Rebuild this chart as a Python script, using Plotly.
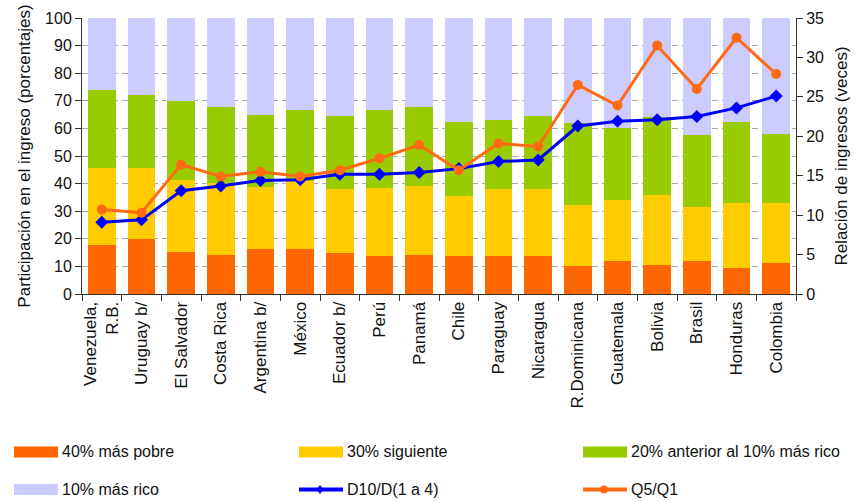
import plotly.graph_objects as go

# Income distribution by country (percent of total income) and income ratios
countries = ["Venezuela,<br>R.B.", "Uruguay b/", "El Salvador", "Costa Rica", "Argentina b/",
             "México", "Ecuador b/", "Perú", "Panamá", "Chile", "Paraguay", "Nicaragua",
             "R.Dominicana", "Guatemala", "Bolivia", "Brasil", "Honduras", "Colombia"]

poorest_40 = [17.8, 20.1, 15.3, 14.3, 16.3, 16.3, 14.9, 13.9, 14.3, 13.9, 13.9, 13.9,
              10.0, 11.9, 10.5, 11.9, 9.5, 11.4]
next_30 = [27.7, 25.4, 26.0, 25.9, 22.6, 24.5, 23.0, 24.5, 25.0, 21.6, 24.0, 24.0,
           22.1, 22.1, 25.5, 19.7, 23.6, 21.7]
prev_20 = [28.5, 26.5, 28.7, 27.5, 26.0, 26.0, 26.5, 28.4, 28.4, 26.9, 25.0, 26.5,
           29.8, 26.0, 28.2, 26.0, 29.3, 25.0]
richest_10 = [26.0, 28.0, 30.0, 32.3, 35.1, 33.2, 35.6, 33.2, 32.3, 37.6, 37.1, 35.6,
              38.1, 40.0, 35.8, 42.4, 37.6, 41.9]

d10_d14 = [9.1, 9.4, 13.1, 13.7, 14.4, 14.5, 15.2, 15.2, 15.4, 15.9, 16.8, 17.0,
           21.3, 21.9, 22.1, 22.5, 23.6, 25.1]
q5_q1 = [10.7, 10.3, 16.4, 14.9, 15.5, 14.9, 15.7, 17.2, 18.9, 15.7, 19.1, 18.7,
         26.5, 23.9, 31.5, 26.0, 32.5, 27.9]

left_ticks = list(range(0, 101, 10))
right_ticks = list(range(0, 36, 5))

FONT = "Liberation Sans, Arial, sans-serif"
ORANGE = "#FF6600"
YELLOW = "#FFCC00"
GREEN = "#99CC00"
LAVENDER = "#CCCCFF"
BLUE = "#0000FF"
LINE_ORANGE = "#FF6A13"

W, H = 856, 502
ML, MR, MT, MB = 82, 60, 18, 208
PW, PH = W - ML - MR, H - MT - MB


def fx(px):
    return (px - ML) / PW


def fy(py):
    return (H - MB - py) / PH


fig = go.Figure()

bar_series = [("40% más pobre", poorest_40, ORANGE),
              ("30% siguiente", next_30, YELLOW),
              ("20% anterior al 10% más rico", prev_20, GREEN),
              ("10% más rico", richest_10, LAVENDER)]
for name, vals, col in bar_series:
    fig.add_trace(go.Bar(x=countries, y=vals, name=name, marker=dict(color=col, line=dict(width=0)),
                         showlegend=False, yaxis="y"))

fig.add_trace(go.Scatter(x=countries, y=d10_d14, name="D10/D(1 a 4)", yaxis="y2", mode="lines+markers",
                         line=dict(color=BLUE, width=3),
                         marker=dict(symbol="diamond", size=10, color=BLUE), showlegend=False))
fig.add_trace(go.Scatter(x=countries, y=q5_q1, name="Q5/Q1", yaxis="y2", mode="lines+markers",
                         line=dict(color=LINE_ORANGE, width=3),
                         marker=dict(symbol="circle", size=10, color=LINE_ORANGE), showlegend=False))

# Legend drawn as swatches + labels in a 3 x 2 grid under the chart
shapes = []
annotations = []
col_x = [14, 299, 583]
row_y = [452, 489.5]
entries = [("bar", ORANGE, "40% más pobre"), ("bar", YELLOW, "30% siguiente"),
           ("bar", GREEN, "20% anterior al 10% más rico"),
           ("bar", LAVENDER, "10% más rico"), ("line", BLUE, "D10/D(1 a 4)"),
           ("line", LINE_ORANGE, "Q5/Q1")]
for i, (kind, col, label) in enumerate(entries):
    x0 = col_x[i % 3]
    yc = row_y[i // 3]
    if kind == "bar":
        shapes.append(dict(type="rect", xref="paper", yref="paper",
                           x0=fx(x0), x1=fx(x0 + 44), y0=fy(yc - 5.5), y1=fy(yc + 5.5),
                           fillcolor=col, line=dict(width=0)))
    else:
        shapes.append(dict(type="line", xref="paper", yref="paper",
                           x0=fx(x0), x1=fx(x0 + 44), y0=fy(yc), y1=fy(yc),
                           line=dict(color=col, width=4)))
        if i == 4:
            shapes.append(dict(type="path", xref="paper", yref="paper",
                               path="M{0},{1} L{2},{3} L{0},{4} L{5},{3} Z".format(
                                   fx(x0 + 21), fy(yc - 4.5), fx(x0 + 24.5), fy(yc), fy(yc + 4.5), fx(x0 + 17.5)),
                               fillcolor=col, line=dict(width=0)))
        else:
            shapes.append(dict(type="circle", xref="paper", yref="paper",
                               x0=fx(x0 + 17), x1=fx(x0 + 25), y0=fy(yc - 4), y1=fy(yc + 4),
                               fillcolor=col, line=dict(width=0)))
    annotations.append(dict(text=label, xref="paper", yref="paper", x=fx(x0 + 46), y=fy(yc),
                            xanchor="left", yanchor="middle", showarrow=False,
                            font=dict(family=FONT, size=16, color="#111111")))

fig.update_layout(
    width=W, height=H,
    margin=dict(l=ML, r=MR, t=MT, b=MB, autoexpand=False),
    paper_bgcolor="white", plot_bgcolor="white",
    barmode="stack", bargap=0.3,
    font=dict(family=FONT, size=15, color="#222222"),
    shapes=shapes, annotations=annotations,
    showlegend=False,
    xaxis=dict(type="category", range=[-0.5, len(countries) - 0.5], autorange=False,
               showline=True, linecolor="#333333", linewidth=1,
               ticks="outside", ticklen=6, tickcolor="#333333", tickson="boundaries",
               tickangle=-90, tickfont=dict(size=17, color="#111111"), showgrid=False),
    yaxis=dict(range=[0, 100], tickvals=left_ticks, showline=True, linecolor="#333333",
               ticks="outside", ticklen=6, tickcolor="#333333",
               showgrid=True, gridcolor="#AAAAAA", griddash="6px,4px", gridwidth=1,
               zeroline=False, tickfont=dict(size=16, color="#111111"),
               title=dict(text="Participación en el ingreso (porcentajes)",
                          font=dict(size=17, color="#111111"), standoff=10)),
    yaxis2=dict(range=[0, 35], tickvals=right_ticks, overlaying="y", side="right",
                showline=True, linecolor="#333333", ticks="outside", ticklen=6,
                tickcolor="#333333", showgrid=False, zeroline=False,
                tickfont=dict(size=16, color="#111111"),
                title=dict(text="Relación de ingresos (veces)",
                           font=dict(size=17, color="#111111"), standoff=12)),
)

fig.write_html("out.html")
